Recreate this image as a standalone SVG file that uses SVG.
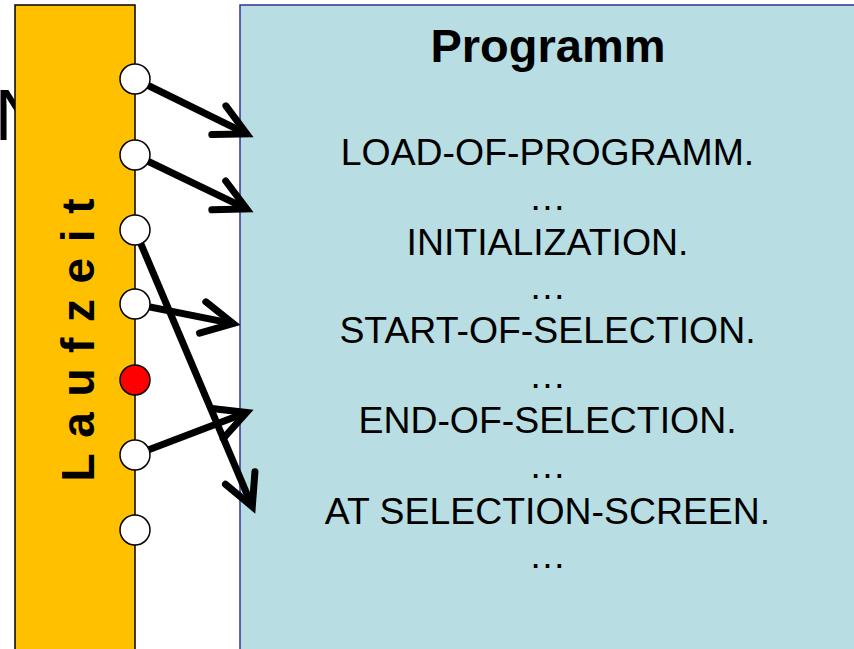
<svg xmlns="http://www.w3.org/2000/svg" width="854" height="649" viewBox="0 0 854 649">
  <defs>
    <style>
      .lane { fill: #FFC000; stroke: #000000; stroke-width: 1.5; }
      .prog { fill: #B8DDE2; stroke: #333399; stroke-width: 1.5; }
      .evt { fill: #FFFFFF; stroke: #000000; stroke-width: 1.5; }
      .evt-on { fill: #FF0000; stroke: #000000; stroke-width: 1.5; }
      .conn { fill: none; stroke: #000000; stroke-width: 7; stroke-linecap: butt; marker-end: url(#head); }
      .body { font-family: "Liberation Sans", Arial, sans-serif; font-size: 37.4px; fill: #000000; text-anchor: middle; }
      .title { font-family: "Liberation Sans", Arial, sans-serif; font-size: 47px; font-weight: bold; fill: #000000; text-anchor: middle; }
      .vert { font-family: "Liberation Sans", Arial, sans-serif; font-size: 46px; font-weight: bold; fill: #000000; letter-spacing: 15.6px; }
      .frag { font-family: "Liberation Sans", Arial, sans-serif; font-size: 73px; fill: #000000; }
    </style>
    <marker id="head" markerUnits="userSpaceOnUse" orient="auto" refX="0" refY="0" markerWidth="60" markerHeight="60" viewBox="-40 -30 60 60" overflow="visible">
      <path d="M-31,-16 L0,0 L-31,16" fill="none" stroke="#000000" stroke-width="7" stroke-linejoin="miter" stroke-linecap="round" stroke-miterlimit="10"/>
    </marker>
  </defs>

  <rect width="854" height="649" fill="#FFFFFF"/>

  <text class="frag" x="-5.5" y="140">N</text>

  <g id="laufzeit">
    <rect class="lane" x="15" y="5" width="120" height="650"/>
    <text class="vert" transform="translate(93.5,481.5) rotate(-90)">Laufzeit</text>
  </g>

  <g id="programm">
    <rect class="prog" x="240" y="5" width="620" height="650"/>
    <text class="title" x="548" y="62">Programm</text>
    <text class="body" x="547.5" y="165">LOAD-OF-PROGRAMM.</text>
    <text class="body" x="547.5" y="210">…</text>
    <text class="body" x="547.5" y="255">INITIALIZATION.</text>
    <text class="body" x="547.5" y="299">…</text>
    <text class="body" x="547.5" y="343">START-OF-SELECTION.</text>
    <text class="body" x="547.5" y="388">…</text>
    <text class="body" x="547.5" y="433">END-OF-SELECTION.</text>
    <text class="body" x="547.5" y="478">…</text>
    <text class="body" x="547.5" y="524">AT SELECTION-SCREEN.</text>
    <text class="body" x="547.5" y="568">…</text>
  </g>

  <g id="connectors">
    <line class="conn" x1="135" y1="79" x2="246.7" y2="133.9"/>
    <line class="conn" x1="135" y1="155" x2="246.7" y2="208.9"/>
    <line class="conn" x1="135" y1="230" x2="252.3" y2="506.6"/>
    <line class="conn" x1="135" y1="304" x2="233.1" y2="323.6"/>
    <line class="conn" x1="135" y1="455" x2="246.5" y2="412.5"/>
  </g>

  <g id="event1"><circle class="evt" cx="135" cy="79" r="15"/></g>
  <g id="event2"><circle class="evt" cx="135" cy="155" r="15"/></g>
  <g id="event3"><circle class="evt" cx="135" cy="230" r="15"/></g>
  <g id="event4"><circle class="evt" cx="135" cy="304" r="15"/></g>
  <g id="event5"><circle class="evt-on" cx="135" cy="380" r="15"/></g>
  <g id="event6"><circle class="evt" cx="135" cy="455" r="15"/></g>
  <g id="event7"><circle class="evt" cx="135" cy="530" r="15"/></g>
</svg>
